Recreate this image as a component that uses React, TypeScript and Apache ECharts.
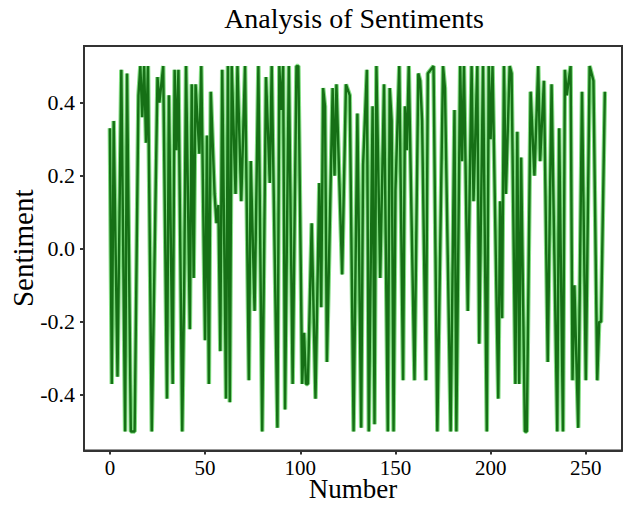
import React, { useEffect, useRef } from "react";
import * as echarts from "echarts";

const titleText = "Analysis of Sentiments";
const xName = "Number";
const yName = "Sentiment";

const xTicks = [0, 50, 100, 150, 200, 250];
const yTicks = [-0.4, -0.2, 0, 0.2, 0.4];

const indexes = [
  0, 1, 2, 4, 6, 8, 9, 11, 13, 15, 16, 17, 18, 19, 20, 22, 25, 26, 28, 30,
  31, 33, 34, 35, 36, 38, 39, 40, 42, 43, 44, 45, 47, 48, 50, 51, 52, 53, 55, 56, 57, 58, 59, 61, 62,
  63, 64, 66, 67, 69, 71, 73, 74, 76, 78, 80, 82, 84, 85, 88, 89, 90, 91, 92, 94, 96,
  98, 99, 101, 102, 103, 104, 106, 108, 110, 111, 112, 113, 114, 117, 118, 119, 122, 124, 126, 128, 130,
  132, 133, 135, 136, 138, 139, 140, 142, 144, 146, 147, 148, 149, 150, 152, 154, 155, 156, 157, 160, 162, 163,
  164, 166, 167, 170, 172, 175, 176, 179, 181, 182, 184, 185, 186, 188, 190, 191, 193, 194, 196, 198,
  199, 200, 201, 204, 205, 206, 207, 208, 210, 211, 213, 214, 215, 216, 218, 219, 221, 223, 225, 226, 228, 230,
  232, 235, 236, 238, 239, 240, 242, 243, 244, 246, 248, 250, 252, 254, 256, 257, 258, 260,
];

const sentiment = [
  0.33, -0.37, 0.35, -0.35, 0.49, -0.5, 0.48, -0.5, -0.5, 0.42, 0.5, 0.36, 0.5, 0.29, 0.5, -0.5, 0.47, 0.4, 0.5, -0.41,
  0.42, -0.37, 0.49, 0.27, 0.49, -0.5, -0.12, 0.5, -0.22, 0.45, -0.08, 0.45, 0.26, 0.5, -0.25, 0.31, -0.37, 0.43, 0.15, 0.07, 0.12, -0.28, 0.49, -0.41, 0.5,
  -0.42, 0.5, 0.15, 0.5, 0.13, 0.5, -0.36, 0.24, -0.17, 0.5, -0.5, 0.47, 0.18, 0.5, -0.49, 0.5, 0.38, 0.5, -0.44, 0.5, -0.37,
  0.5, 0.5, -0.37, -0.23, -0.37, -0.37, 0.07, -0.41, 0.18, -0.16, 0.44, 0.39, -0.31, 0.44, 0.2, 0.45, -0.07, 0.45, 0.42, -0.5, 0.37,
  -0.49, 0.23, 0.49, -0.5, 0.39, -0.48, 0.5, -0.08, 0.45, -0.5, 0.44, 0.35, -0.5, 0.16, 0.5, -0.36, 0.39, 0.27, 0.5, -0.36, 0.48, 0.46,
  0.35, -0.36, 0.48, 0.5, -0.5, 0.5, 0.44, -0.5, 0.38, -0.5, 0.5, 0.24, 0.5, -0.17, 0.5, 0.13, 0.5, -0.26, 0.5, -0.5,
  0.5, 0.3, 0.5, -0.41, 0.13, -0.19, 0.5, 0.15, 0.5, 0.48, -0.37, 0.32, -0.37, 0.25, -0.5, -0.5, 0.43, 0.2, 0.5, 0.24, 0.46, -0.31,
  0.45, -0.5, 0.33, -0.5, 0.49, 0.42, 0.5, -0.36, -0.1, -0.49, 0.43, -0.36, 0.5, 0.46, -0.36, -0.2, -0.2, 0.43,
];

const FONT = "'Liberation Serif', 'DejaVu Serif', serif";

export default function App() {
  const ref = useRef<HTMLDivElement>(null);
  useEffect(() => {
    const chart = echarts.init(ref.current!, null, { renderer: "svg" });
    const data = indexes.map((x, i) => [x, sentiment[i]]);
    chart.setOption({
      animation: false,
      backgroundColor: "#ffffff",
      graphic: [
        {
          type: "text",
          x: 354,
          y: 4,
          style: {
            text: titleText,
            align: "center",
            textAlign: "center",
            verticalAlign: "top",
            textVerticalAlign: "top",
            fontSize: 28,
            fontFamily: FONT,
            fill: "#000",
          },
        },
      ],
      grid: {
        left: 81,
        right: 5,
        top: 46,
        bottom: 53,
        show: true,
        borderColor: "#333",
        borderWidth: 2,
        backgroundColor: "#ffffff",
      },
      xAxis: {
        type: "value",
        min: -13.6,
        max: 269,
        name: xName,
        nameLocation: "middle",
        nameGap: 27,
        nameMoveOverlap: false,
        nameTextStyle: { fontSize: 27, lineHeight: 22, fontFamily: FONT, color: "#000", verticalAlign: "top" },
        axisLine: { show: true, onZero: false, lineStyle: { color: "#333", width: 2 } },
        axisTick: { show: true, length: 4, lineStyle: { color: "#333", width: 2 }, customValues: xTicks },
        axisLabel: { customValues: xTicks, fontSize: 21, fontFamily: FONT, color: "#000", margin: 7 },
        splitLine: { show: false },
      },
      yAxis: {
        type: "value",
        min: -0.552,
        max: 0.555,
        name: yName,
        nameLocation: "middle",
        nameRotate: 90,
        nameGap: 47,
        nameMoveOverlap: false,
        nameTextStyle: { fontSize: 29, fontFamily: FONT, color: "#000" },
        axisLine: { show: true, onZero: false, lineStyle: { color: "#333", width: 2 } },
        axisTick: { show: true, length: 4, lineStyle: { color: "#333", width: 2 }, customValues: yTicks },
        axisLabel: {
          customValues: yTicks,
          fontSize: 22,
          fontFamily: FONT,
          color: "#000",
          margin: 9,
          formatter: (v: number) => v.toFixed(1),
        },
        splitLine: { show: false },
      },
      series: [
        {
          type: "line",
          data,
          symbol: "none",
          silent: true,
          lineStyle: { color: "#4fcf4f", width: 4.5, opacity: 0.7 },
          z: 1,
        },
        {
          type: "line",
          data,
          symbol: "none",
          silent: true,
          lineStyle: { color: "#167016", width: 2.4 },
          z: 2,
        },
      ],
    });
    return () => chart.dispose();
  }, []);
  return (
    <div
      ref={ref}
      style={{ position: "fixed", left: 0, top: 0, width: 627, height: 507, background: "#fff" }}
    />
  );
}
